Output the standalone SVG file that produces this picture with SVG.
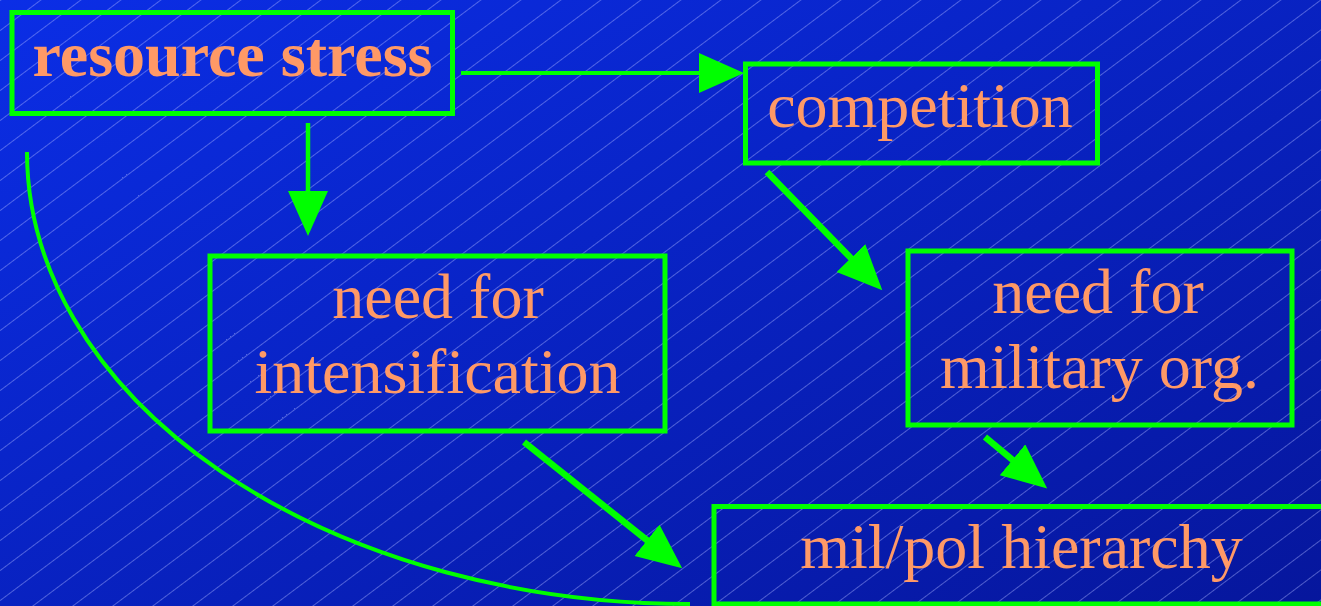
<svg xmlns="http://www.w3.org/2000/svg" width="1321" height="606" viewBox="0 0 1321 606">
<defs>
<linearGradient id="bg" x1="0" y1="0" x2="1" y2="1">
<stop offset="0" stop-color="#0b2ee6"/>
<stop offset="1" stop-color="#06169c"/>
</linearGradient>
<pattern id="hatch" patternUnits="userSpaceOnUse" width="20" height="24" patternTransform="rotate(-36.87)">
<line x1="0" y1="0.5" x2="20" y2="0.5" stroke="#aab4ff" stroke-opacity="0.55" stroke-width="0.8"/>
</pattern>
<marker id="ah" markerUnits="userSpaceOnUse" markerWidth="48" markerHeight="42" refX="1" refY="20" orient="auto" viewBox="0 0 48 42">
<path d="M0,0 L45,20 L0,40 z" fill="#00ff00"/>
</marker>
<style>
.box{fill:none;stroke:#00ff00;stroke-width:5}
.t{font-family:"Liberation Serif","Times New Roman",serif;font-size:64px;fill:#ff9966;text-anchor:middle}
.b{font-weight:bold}
.c{fill:none;stroke:#00ff00}
</style>
</defs>
<rect width="1321" height="606" fill="url(#bg)"/>
<rect width="1321" height="606" fill="url(#hatch)"/>
<g id="connectors">
<line class="c" x1="461" y1="73" x2="700" y2="73" stroke-width="4" marker-end="url(#ah)"/>
<line class="c" x1="308" y1="123" x2="308" y2="192" stroke-width="4.5" marker-end="url(#ah)"/>
<line class="c" x1="767" y1="172" x2="851.6" y2="258.8" stroke-width="6.5" marker-end="url(#ah)"/>
<line class="c" x1="985" y1="437" x2="1013.3" y2="460.4" stroke-width="6.5" marker-end="url(#ah)"/>
<line class="c" x1="524" y1="442" x2="647.8" y2="540.9" stroke-width="6.5" marker-end="url(#ah)"/>
<path class="c" d="M27,152 A663,452 0 0 0 690,604" stroke-width="4"/>
</g>
<g id="resource-stress">
<rect class="box" x="12" y="12.5" width="440.5" height="101"/>
<text class="t b" x="232.5" y="76">resource stress</text>
</g>
<g id="competition">
<rect class="box" x="745.5" y="64" width="352" height="99"/>
<text class="t" x="920" y="127">competition</text>
</g>
<g id="need-intensification">
<rect class="box" x="210" y="256" width="455" height="175"/>
<text class="t" x="438" y="318">need for</text>
<text class="t" x="437.5" y="393">intensification</text>
</g>
<g id="need-military">
<rect class="box" x="908" y="251" width="384" height="174"/>
<text class="t" x="1098" y="313">need for</text>
<text class="t" x="1099.5" y="388">military org.</text>
</g>
<g id="mil-pol-hierarchy">
<rect class="box" x="714" y="506.5" width="620" height="97.5"/>
<text class="t" x="1021.5" y="568">mil/pol hierarchy</text>
</g>
</svg>
